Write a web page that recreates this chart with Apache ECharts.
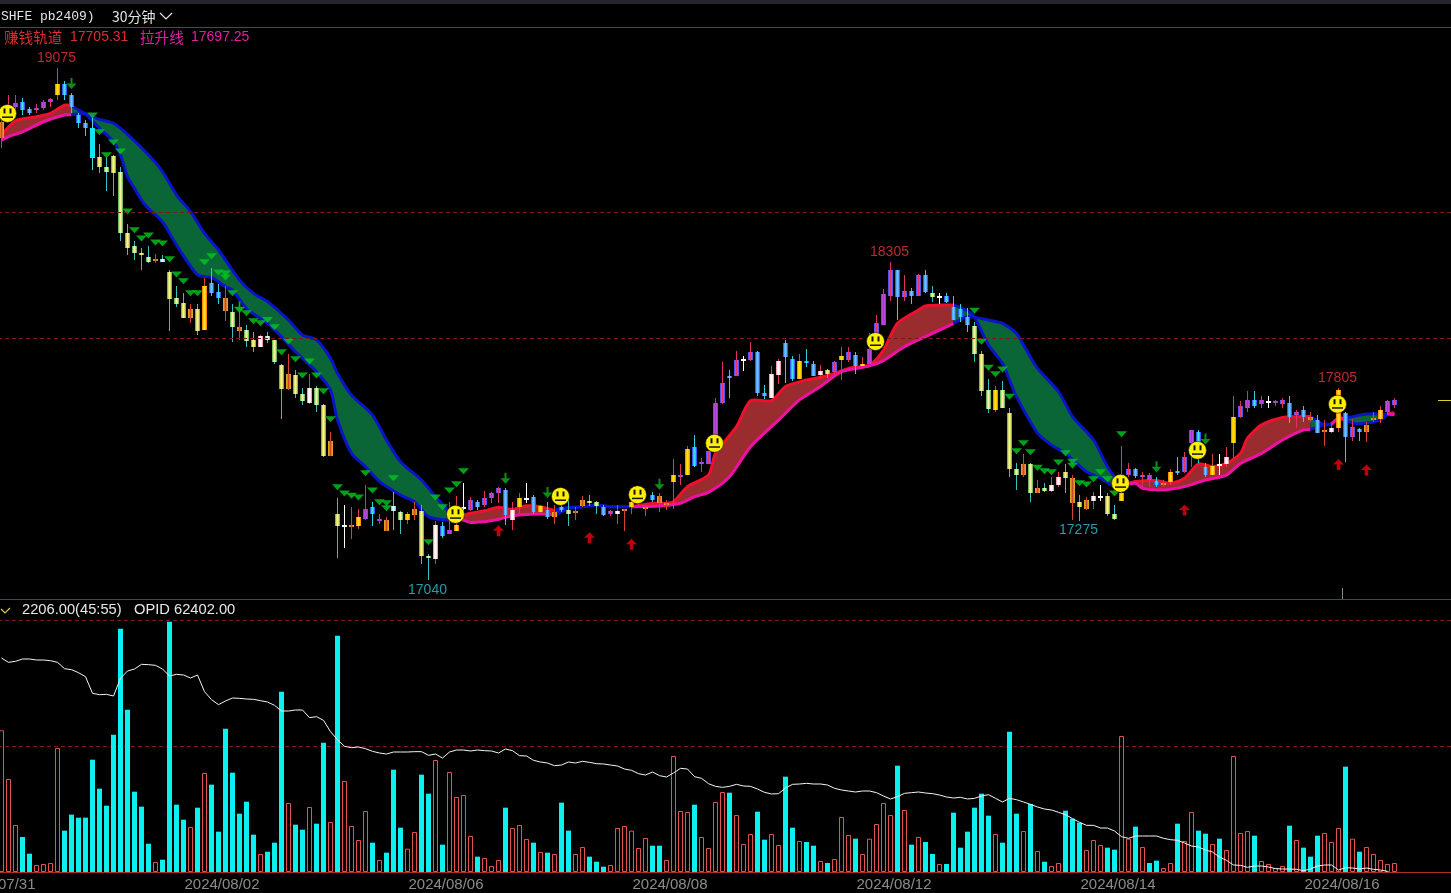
<!DOCTYPE html>
<html><head><meta charset="utf-8">
<style>html,body{margin:0;padding:0;background:#000}#c{width:1451px;height:893px}</style>
<script src="https://cdn.jsdelivr.net/npm/echarts@6/dist/echarts.min.js"></script>
</head><body><div id="c"></div>
<script>
const dateLabels=['2024/07/31','2024/08/02','2024/08/06','2024/08/08','2024/08/12','2024/08/14','2024/08/16'];
// open, close, low, high for each 30-minute bar
const ohlc=[
[18795,18860,18755,18885],[18905,18920,18885,18965],[18920,18935,18905,18965],[18940,18905,18885,18955],[18910,18895,18885,18920],[18910,18915,18895,18930],[18915,18940,18905,18945],[18940,18950,18920,18955],[18965,19010,18945,19075],[19010,18965,18945,19020],
[18965,18920,18895,18975],[18885,18855,18835,18895],[18855,18835,18805,18865],[18835,18715,18670,18875],[18720,18680,18655,18770],[18680,18660,18585,18720],[18725,18655,18565,18730],[18660,18420,18385,18680],[18420,18360,18330,18455],[18365,18340,18310,18385],
[18340,18330,18270,18360],[18325,18305,18300,18365],[18310,18315,18300,18335],[18315,18305,18305,18330],[18265,18155,18030,18270],[18160,18135,18125,18210],[18140,18080,18080,18180],[18080,18115,18060,18135],[18115,18030,18015,18135],[18035,18210,18035,18240],
[18220,18180,18170,18280],[18185,18160,18135,18215],[18110,18160,18070,18210],[18105,18045,17985,18135],[18030,18045,17995,18140],[18035,17990,17965,18055],[17995,17965,17945,18025],[17965,18010,17965,18015],[18010,17995,17980,18025],[17995,17905,17900,17995],
[17895,17800,17680,17900],[17800,17860,17795,17940],[17855,17780,17765,17875],[17780,17750,17735,17805],[17745,17805,17740,17860],[17805,17735,17710,17810],[17735,17535,17530,17740],[17535,17595,17535,17630],[17305,17255,17130,17365],[17255,17260,17170,17340],
[17255,17260,17205,17330],[17255,17290,17245,17325],[17285,17325,17280,17420],[17330,17305,17255,17350],[17280,17285,17265,17305],[17235,17280,17235,17290],[17335,17315,17240,17390],[17310,17280,17225,17315],[17280,17305,17265,17310],[17300,17325,17280,17350],
[17315,17135,17105,17340],[17135,17130,17040,17145],[17125,17260,17105,17275],[17255,17215,17210,17270],[17225,17240,17225,17350],[17235,17260,17235,17375],[17325,17330,17305,17425],[17320,17360,17315,17370],[17350,17330,17320,17360],[17340,17365,17330,17395],
[17365,17385,17345,17390],[17385,17405,17345,17410],[17400,17300,17260,17405],[17280,17320,17240,17350],[17330,17365,17305,17385],[17360,17365,17345,17425],[17370,17310,17305,17380],[17310,17335,17305,17340],[17320,17290,17285,17350],[17290,17310,17265,17340],
[17330,17320,17310,17340],[17320,17305,17255,17360],[17310,17315,17280,17330],[17335,17360,17330,17375],[17355,17345,17335,17380],[17350,17335,17305,17355],[17330,17300,17295,17340],[17305,17315,17295,17320],[17305,17315,17265,17340],[17320,17325,17235,17325],
[17330,17350,17305,17360],[17350,17365,17340,17370],[17325,17330,17295,17340],[17380,17360,17350,17390],[17345,17375,17310,17385],[17340,17345,17320,17360],[17430,17460,17325,17520],[17455,17460,17420,17500],[17460,17560,17460,17575],[17570,17495,17490,17615],
[17505,17510,17470,17525],[17500,17555,17500,17555],[17615,17745,17610,17765],[17745,17825,17740,17905],[17850,17845,17765,17875],[17850,17915,17850,17950],[17915,17920,17870,17930],[17915,17945,17910,17985],[17945,17785,17770,17950],[17785,17770,17760,17815],
[17765,17860,17765,17890],[17855,17910,17820,17920],[17980,17925,17825,17995],[17920,17840,17830,17930],[17840,17910,17840,17940],[17910,17905,17885,17960],[17900,17850,17850,17910],[17855,17870,17845,17895],[17875,17860,17845,17880],[17865,17905,17860,17910],
[17915,17930,17835,17965],[17915,17945,17905,17965],[17935,17890,17860,17945],[17890,17900,17890,17925],[17900,17960,17900,18020],[18020,18060,18020,18095],[18055,18175,18055,18195],[18170,18270,18150,18305],[18270,18165,18075,18270],[18165,18190,18150,18250],
[18190,18170,18135,18200],[18170,18250,18170,18255],[18250,18185,18180,18270],[18180,18165,18145,18210],[18165,18170,18135,18180],[18170,18145,18140,18180],[18125,18075,18075,18170],[18115,18085,18065,18135],[18085,18055,18025,18120],[18050,17940,17905,18065],
[17940,17790,17770,17950],[17795,17720,17705,17840],[17715,17795,17710,17810],[17795,17725,17725,17830],[17705,17480,17450,17725],[17480,17460,17400,17505],[17460,17500,17450,17540],[17500,17385,17350,17505],[17385,17405,17385,17440],[17405,17395,17390,17425],
[17395,17420,17390,17450],[17420,17450,17410,17470],[17470,17445,17385,17500],[17345,17445,17280,17460],[17350,17330,17275,17380],[17325,17360,17320,17370],[17355,17375,17325,17390],[17370,17375,17355,17420],[17375,17305,17295,17385],[17305,17285,17280,17340],
[17355,17385,17355,17575],[17460,17480,17450,17505],[17480,17455,17445,17485],[17450,17460,17410,17470],[17440,17460,17410,17465],[17435,17420,17410,17450],[17420,17425,17410,17440],[17430,17470,17420,17480],[17475,17470,17460,17530],[17470,17530,17465,17550],
[17585,17635,17490,17635],[17630,17590,17505,17635],[17490,17460,17450,17505],[17460,17495,17460,17540],[17495,17500,17460,17540],[17500,17530,17490,17570],[17585,17690,17525,17770],[17690,17730,17685,17750],[17725,17755,17710,17790],[17755,17730,17725,17790],
[17740,17755,17725,17770],[17745,17750,17725,17770],[17745,17750,17730,17755],[17740,17755,17725,17765],[17745,17690,17665,17770],[17695,17710,17645,17715],[17715,17690,17670,17730],[17675,17690,17670,17710],[17675,17625,17625,17695],[17630,17635,17575,17675],
[17630,17645,17625,17665],[17645,17795,17630,17805],[17705,17610,17510,17710],[17610,17650,17595,17680],[17640,17630,17595,17645],[17630,17655,17590,17670],[17675,17685,17670,17710],[17680,17715,17665,17730],[17710,17750,17695,17755],[17735,17755,17725,17765]];
// bar state: P rising, B falling, G falling under the track, O/Y rising under the track, W/w/X small or doji, C heavy fall
const candleState='OPPBBPPPYB BBBCGGGGGG GGOwGGGOGY BBOGOGGWwG GOGGWGGOGX OYPBPOwGYO GGWBPYXPBP PPBWYXBYBO BGOOGGBPWO YPOBOOYPYB PPPPBPXPBB WWBBYBBWGP YPBYPPPPBP BPBGXBBBBG GGYGGGOGOG WWGOGOWXGG YPBPPBOYBP PBBYXWYPPB PXPPBPBOBO WYBPBOOYPP'.replace(/ /g,'');
// volume, in picture units where the upper dashed line reads 756
const volume=[425,279,141,105,55,21,24,27,372,124,172,163,163,337,250,199,412,730,487,241,196,85,30,37,751,202,157,135,193,297,262,121,430,298,175,211,112,54,61,88,541,207,142,127,195,145,388,150,709,273,138,96,183,88,36,58,307,133,70,120,292,235,336,82,300,225,231,108,46,42,18,36,193,132,141,99,88,60,58,54,208,124,54,75,46,31,16,21,132,138,124,72,102,79,79,36,348,183,180,202,105,72,210,240,238,171,84,114,181,97,114,81,286,133,93,90,79,33,27,39,165,111,100,54,100,144,207,171,319,186,82,105,90,54,24,24,178,73,121,193,235,169,114,88,421,175,123,204,63,31,18,27,184,160,148,66,96,81,73,67,408,100,136,75,27,34,12,27,145,93,180,124,115,84,100,66,348,117,123,109,33,24,12,18,139,96,73,46,109,117,90,132,316,100,61,75,54,36,24,27];
const volumeSide='RRRCCRRRRC CCCCCCCCCC CCRCCCCRCR CCCCCCCRCC CRCCRCCRCR RRRCRCCCRR CCRCRRRRCR RRCRRRCRCR CCRRCCCRRR RRRCCRRRRC RRRRCRRRCC RRCCRCCRCR RRCRRRRRCR CRCCRCCCCC CCRCCCRCRC RRCCCRRRCC RRCRCCRRCR RCCRCRRRRC RRRRCRCCCR RRCRCRRRRR'.replace(/ /g,'');
// open interest curve, same picture units
const openInterest=[642,629,632,639,639,636,636,634,629,610,607,598,586,536,532,533,528,581,603,609,623,622,620,609,588,593,591,582,591,541,517,502,513,522,521,519,518,514,510,500,483,483,486,486,463,466,455,421,397,377,373,375,370,362,357,354,360,360,360,361,361,350,354,342,360,366,366,363,366,364,363,357,369,364,349,348,335,330,327,319,321,330,327,332,329,325,324,321,318,309,305,295,291,300,289,285,297,311,309,286,281,265,257,254,257,263,258,257,249,239,234,235,252,263,264,266,264,264,261,251,246,243,240,243,243,238,228,219,226,236,238,240,237,235,231,225,222,224,219,221,228,232,221,210,221,217,210,203,195,189,186,179,172,160,149,140,140,132,132,123,106,101,108,108,108,108,101,97,95,87,78,75,66,60,45,35,21,20,14,18,18,15,10,9,9,8,4,9,18,21,21,6,13,12,9,12,8,6,2];
// [bar, price] readings of the two moving bands
const trackLine=[[0,18807],[2,18864],[5,18880],[7,18893],[9,18926],[10,18925],[11,18906],[12,18891],[14,18834],[16,18781],[17,18728],[18,18642],[19,18596],[20,18549],[21,18516],[23,18463],[25,18371],[28,18252],[30,18242],[32,18205],[33,18192],[35,18119],[38,18060],[40,18007],[42,17947],[45,17868],[47,17795],[48,17676],[50,17544],[52,17491],[54,17432],[57,17379],[59,17352],[61,17293],[64,17279],[65,17290],[67,17306],[69,17316],[71,17330],[72,17326],[73,17322],[75,17336],[77,17332],[79,17316],[80,17326],[83,17332],[85,17339],[87,17332],[89,17332],[90,17332],[93,17346],[95,17346],[96,17352],[98,17412],[101,17458],[102,17544],[105,17650],[107,17753],[110,17753],[112,17809],[115,17835],[117,17846],[119,17861],[121,17881],[124,17895],[126,17954],[128,18060],[131,18113],[132,18129],[135,18133],[136,18133],[138,18110],[139,18084],[141,17974],[143,17901],[144,17835],[145,17769],[148,17624],[150,17577],[152,17544],[155,17471],[157,17445],[159,17412],[160,17415],[162,17432],[165,17436],[167,17425],[169,17445],[171,17502],[173,17491],[175,17504],[177,17544],[178,17604],[180,17657],[183,17686],[187,17690],[189,17657],[190,17660],[191,17683],[192,17674],[194,17661],[197,17676],[198,17700],[199,17705]];
const liftLine=[[0,18787],[1,18801],[3,18820],[6,18860],[9,18887],[10,18888],[12,18891],[14,18869],[16,18854],[18,18810],[21,18728],[23,18662],[25,18569],[27,18503],[29,18417],[31,18351],[34,18232],[36,18179],[38,18146],[41,18073],[43,18014],[45,17994],[47,17921],[48,17861],[50,17775],[53,17696],[55,17597],[57,17511],[60,17438],[62,17372],[64,17312],[65,17290],[67,17270],[69,17273],[71,17282],[72,17290],[74,17299],[77,17303],[79,17299],[80,17312],[81,17326],[83,17332],[85,17339],[87,17332],[89,17332],[90,17332],[94,17335],[97,17346],[99,17372],[101,17389],[104,17451],[107,17570],[111,17676],[114,17756],[117,17809],[120,17868],[124,17891],[126,17912],[129,17967],[133,18020],[136,18060],[138,18086],[139,18084],[142,18067],[143,18060],[145,18020],[146,17974],[148,17881],[151,17789],[153,17690],[156,17597],[158,17491],[160,17415],[162,17425],[163,17405],[166,17399],[169,17412],[172,17438],[175,17458],[177,17504],[180,17544],[183,17597],[186,17637],[187,17639],[189,17657],[190,17660],[191,17683],[192,17683],[195,17700],[198,17700],[199,17697]];
// [first bar, last bar, direction]
const regimes=[[0,10,1],[10,65,-1],[65,79,1],[79,90,-1],[90,136,1],[136,160,-1],[160,187,1],[187,190,-1],[190,192,1],[192,198,-1],[198,199,1]];
const sellMarks=[[13,18885],[14,18818],[16,18778],[17,18742],[15,18727],[18,18504],[19,18429],[20,18397],[21,18409],[22,18381],[23,18377],[24,18314],[25,18254],[26,18227],[27,18179],[28,18179],[29,18302],[30,18326],[31,18262],[32,18258],[32,18242],[33,18179],[34,18113],[35,18100],[36,18068],[37,18060],[38,18073],[39,18044],[41,17988],[40,17945],[42,17917],[44,17909],[43,17853],[45,17853],[46,17790],[47,17679],[48,17409],[49,17385],[50,17376],[51,17369],[52,17465],[53,17397],[54,17350],[55,17346],[55,17326],[56,17445],[61,17191],[62,17369],[63,17330],[64,17397],[65,17421],[66,17473],[139,18110],[140,17987],[141,17884],[142,17858],[143,17877],[144,17769],[146,17584],[145,17552],[147,17548],[148,17487],[149,17473],[150,17469],[151,17508],[152,17544],[153,17511],[153,17495],[154,17425],[155,17420],[156,17441],[157,17469],[158,17441],[159,17385],[160,17620]];
const downArrows=[[10,19012],[34,18126],[72,17445],[78,17389],[94,17421],[165,17491],[172,17601]];
const upArrows=[[71,17237],[84,17209],[90,17183],[169,17319],[191,17500],[195,17478]];
const smileys=[[1,18893],[65,17302],[80,17373],[91,17380],[102,17584],[125,17988],[160,17425],[171,17556],[191,17739]];
const highLabels=[[8,19075],[127,18305],[191,17805]];
const lowLabels=[[61,17040],[154,17275]];
const gridLevels=[18500,18000];

const categories=[];
for(let i=0;i<208;i++) categories.push(i%32===0&&dateLabels[i/32]?dateLabels[i/32]:'');

// outer column, inner columns, centre column, wick
const palette={
 P:['#5c50e8','#b848e0','#e83060','#e03060'],
 B:['#3060f0','#58a8ff','#40e0f0','#30d0d8'],
 G:['#78b860','#dce070','#f4f4a0','#38c0c0'],
 O:['#e0a020','#e07830','#c84828','#d84030'],
 Y:['#ff9000','#ffcc00','#ffe030','#d84040'],
 W:['#e8a0b0','#ffe8e8','#ffffff','#e83050'],
 w:['#70d8d8','#b8f4ec','#ffffff','#30c8c8'],
 X:['#ffffff','#ffffff','#ffffff','#ffffff'],
 C:['#10e8f0','#10e8f0','#10e8f0','#50d8d8']
};

function candleItem(params,api){
 const i=api.value(0),o=api.value(1),c=api.value(2),l=api.value(3),h=api.value(4);
 const pal=palette[candleState[i]]||palette.X;
 const x=Math.floor(api.coord([i,o])[0])+0.5;
 const yt=Math.round(api.coord([i,Math.max(o,c)])[1]),yb=Math.round(api.coord([i,Math.min(o,c)])[1]);
 const yh=Math.round(api.coord([i,h])[1]),yl=Math.round(api.coord([i,l])[1]);
 const bh=Math.max(yb-yt,2);
 return {type:'group',children:[
  {type:'rect',shape:{x:x-0.5,y:yh,width:1,height:yl-yh},style:{fill:pal[3]}},
  {type:'rect',shape:{x:x-2.5,y:yt,width:5,height:bh},style:{fill:pal[0]}},
  {type:'rect',shape:{x:x-1.5,y:yt,width:3,height:bh},style:{fill:pal[1]}},
  {type:'rect',shape:{x:x-0.5,y:yt,width:1,height:bh},style:{fill:pal[2]}}
 ]};
}
function bandItem(params,api){
 const s=api.value(0),e=api.value(1),d=api.value(2);
 const pts=(arr)=>arr.filter(p=>p[0]>=s&&p[0]<=e).map(p=>api.coord(p));
 const a=pts(trackLine),b=pts(liftLine);
 const fill=d>0?'#9a2c30':'#0a6636';
 const ca=d>0?'#f0102c':'#0a14c8',cb=d>0?'#f010a8':'#0a14c8';
 return {type:'group',children:[
  {type:'polygon',shape:{points:a.concat(b.slice().reverse())},style:{fill:fill}},
  {type:'polyline',shape:{points:a,smooth:0.25},style:{stroke:ca,lineWidth:3,fill:null,lineJoin:'round'}},
  {type:'polyline',shape:{points:b,smooth:0.25},style:{stroke:cb,lineWidth:3,fill:null,lineJoin:'round'}}
 ]};
}
function smileyItem(params,api){
 const p=api.coord([api.value(0),api.value(1)]);
 const x=p[0]-1,y=p[1];
 return {type:'group',children:[
  {type:'circle',shape:{cx:x,cy:y,r:9},style:{fill:'#fff000',stroke:'#111',lineWidth:0.6}},
  {type:'rect',shape:{x:x-4,y:y-5,width:2,height:5},style:{fill:'#111'}},
  {type:'rect',shape:{x:x+2,y:y-5,width:2,height:5},style:{fill:'#111'}},
  {type:'rect',shape:{x:x-5.5,y:y+3,width:11,height:1.5},style:{fill:'#111'}}
 ]};
}
const chart=echarts.init(document.getElementById('c'),null,{renderer:'canvas'});
const txt=(x,y,text,fill,font,extra)=>({type:'text',x:x,y:y,silent:true,style:Object.assign({text:text,fill:fill,font:font,textVerticalAlign:'middle'},extra||{})});
const NUM='14px "Liberation Sans"',CJK='14.6px "Noto Sans CJK SC"',NUM2='14.7px "Liberation Sans"';
chart.setOption({
 animation:false,backgroundColor:'#000',
 grid:[{left:-2,width:1456,top:27,height:572.5,outerBoundsMode:'none'},{left:-2,width:1456,top:620,height:252,outerBoundsMode:'none'}],
 xAxis:[
  {type:'category',gridIndex:0,data:categories,show:false,boundaryGap:true},
  {type:'category',gridIndex:1,data:categories,boundaryGap:true,
   axisLine:{show:true,onZero:false,lineStyle:{color:'#b02828',width:1}},axisTick:{show:false},
   axisLabel:{interval:31,color:'#8c8c8c',fontSize:15,fontFamily:'"Liberation Sans"',margin:5,padding:[0,7,0,0],hideOverlap:false},splitLine:{show:false}}
 ],
 yAxis:[
  {type:'value',gridIndex:0,min:16964,max:19236,show:false,splitLine:{show:false}},
  {type:'value',gridIndex:1,min:0,max:756,interval:378,axisLine:{show:false},axisTick:{show:false},axisLabel:{show:false},
   splitLine:{show:true,lineStyle:{color:'#7c1818',type:[4,3],width:1}}}
 ],
 series:[
  {type:'custom',name:'band',xAxisIndex:0,yAxisIndex:0,renderItem:bandItem,data:regimes,encode:{x:0,y:1},silent:true,z:2,
   markLine:{silent:true,symbol:'none',label:{show:false},lineStyle:{color:'#7c1818',type:[4,3],width:1},data:gridLevels.map(v=>({yAxis:v}))}},
  {type:'custom',name:'candles',xAxisIndex:0,yAxisIndex:0,renderItem:candleItem,silent:true,z:3,encode:{x:0,y:[1,2,3,4]},
   data:ohlc.map((r,i)=>[i,r[0],r[1],r[2],r[3]])},
  {type:'scatter',name:'sell',xAxisIndex:0,yAxisIndex:0,data:sellMarks,symbol:'path://M0 0L10 0L5 6Z',symbolSize:[11,6],itemStyle:{color:'#00c81e'},silent:true,z:4},
  {type:'scatter',name:'down',xAxisIndex:0,yAxisIndex:0,data:downArrows,symbol:'path://M4 0H6V5H10L5 10L0 5H4Z',symbolSize:[10,11],itemStyle:{color:'#10b020'},silent:true,z:4},
  {type:'scatter',name:'up',xAxisIndex:0,yAxisIndex:0,data:upArrows,symbol:'path://M5 0L10 5H6.6V10H3.4V5H0Z',symbolSize:[11,11],itemStyle:{color:'#f00010'},silent:true,z:4},
  {type:'custom',name:'smiley',xAxisIndex:0,yAxisIndex:0,renderItem:smileyItem,data:smileys,encode:{x:0,y:1},silent:true,z:5},
  {type:'scatter',name:'highs',xAxisIndex:0,yAxisIndex:0,data:highLabels,symbolSize:1,itemStyle:{color:'transparent'},silent:true,z:6,
   label:{show:true,position:'inside',offset:[-1,-9.5],color:'#e83838',fontSize:14,fontFamily:'"Liberation Sans"',formatter:p=>String(p.value[1])}},
  {type:'scatter',name:'lows',xAxisIndex:0,yAxisIndex:0,data:lowLabels,symbolSize:1,itemStyle:{color:'transparent'},silent:true,z:6,
   label:{show:true,position:'inside',offset:[-1,9.5],color:'#30c0d0',fontSize:14,fontFamily:'"Liberation Sans"',formatter:p=>String(p.value[1])}},
  {type:'bar',name:'volume',xAxisIndex:1,yAxisIndex:1,barWidth:5,silent:true,
   data:volume.map((v,i)=>({value:v,itemStyle:volumeSide[i]==='C'?{color:'#0cf0f0'}:{color:'rgba(0,0,0,0)',borderColor:'#e0544f',borderWidth:1}}))},
  {type:'line',name:'openInterest',xAxisIndex:1,yAxisIndex:1,data:openInterest,symbol:'none',silent:true,lineStyle:{color:'#f4f4f4',width:1},z:4}
 ],
 graphic:[
  {type:'rect',shape:{x:0,y:0,width:1451,height:4},style:{fill:'#24272b'},silent:true},
  {type:'rect',shape:{x:0,y:27,width:1451,height:1},style:{fill:'#a82020'},silent:true},
  {type:'rect',shape:{x:0,y:599,width:1451,height:1},style:{fill:'#a82020'},silent:true},
  {type:'rect',shape:{x:1342,y:588,width:1,height:11},style:{fill:'#888'},silent:true},
  {type:'rect',shape:{x:1438,y:400,width:13,height:1},style:{fill:'#d8d020'},silent:true},
  txt(1,17,'SHFE pb2409)','#e4e4e4','13px "Liberation Mono"'),
  txt(112,17,'30分钟','#e4e4e4','14px "Noto Sans CJK SC"'),
  {type:'polyline',shape:{points:[[160,13],[166,19],[172,13]]},style:{stroke:'#e4e4e4',lineWidth:1.2,fill:null},silent:true},
  txt(4,37,'赚钱轨道','#d83030',CJK),
  txt(70,37,'17705.31','#d83030',NUM),
  txt(140,37,'拉升线','#e020a8',CJK),
  txt(191,37,'17697.25','#e020a8',NUM),
  {type:'polyline',shape:{points:[[1,609],[5,613],[10,608]]},style:{stroke:'#d8d040',lineWidth:1.2,fill:null},silent:true},
  txt(22,610,'2206.00(45:55)','#e8e8e8',NUM2),
  txt(134,610,'OPID 62402.00','#e8e8e8',NUM2)
 ]
});
</script></body></html>
